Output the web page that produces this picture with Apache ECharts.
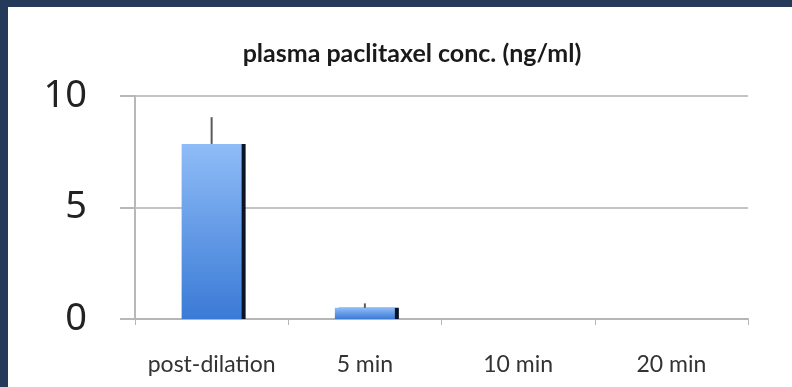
<!DOCTYPE html>
<html>
<head>
<meta charset="utf-8">
<script src="https://cdn.jsdelivr.net/npm/echarts@6/dist/echarts.min.js"></script>
<style>
html,body{margin:0;padding:0;background:#ffffff;}
#chart{width:792px;height:387px;}
</style>
</head>
<body>
<div id="chart"></div>
<script>
const titleText = 'plasma paclitaxel conc. (ng/ml)';
const categories = ['post-dilation', '5 min', '10 min', '20 min'];
const meanValues = [7.85, 0.5, 0, 0];
const errorUpper = [9.05, 0.7, 0, 0];
const yTicks = [0, 5, 10];

const chart = echarts.init(document.getElementById('chart'), null, {renderer: 'canvas'});

const option = {
  backgroundColor: '#ffffff',
  animation: false,
  title: {
    text: titleText,
    left: 407,
    textAlign: 'center',
    top: 36,
    textStyle: {fontFamily: 'Lato', fontWeight: 'bold', fontSize: 25, color: '#1a1a1a'}
  },
  graphic: [
    {type: 'rect', left: 0, top: 0, shape: {width: 792, height: 7}, style: {fill: '#253a5b'}, z: 100},
    {type: 'rect', left: 0, top: 0, shape: {width: 8, height: 387}, style: {fill: '#253a5b'}, z: 100}
  ],
  grid: {left: 135, right: 44, top: 96, bottom: 68},
  xAxis: {
    type: 'category',
    data: categories,
    axisLine: {show: true, lineStyle: {color: '#b5b5b5', width: 2}},
    axisTick: {show: true, interval: 0, length: 6, alignWithLabel: false, lineStyle: {color: '#b5b5b5'}},
    axisLabel: {interval: 0, hideOverlap: false, fontFamily: 'Lato', fontSize: 23, color: '#333333', margin: 34}
  },
  yAxis: {
    type: 'value',
    min: 0,
    max: 10,
    interval: 5,
    axisLine: {show: true, lineStyle: {color: '#b8b8b8', width: 2}},
    axisTick: {show: true, inside: false, length: 15, lineStyle: {color: '#b8b8b8', width: 2}},
    splitLine: {show: true, lineStyle: {color: '#c4c4c4', width: 2}},
    axisLabel: {
      fontFamily: 'Noto Sans', fontSize: 38, color: '#222222', margin: 48,
      formatter: function (v) { return yTicks.indexOf(v) >= 0 ? String(v) : ''; }
    }
  },
  series: [
    {
      type: 'bar',
      data: meanValues,
      barWidth: 60,
      itemStyle: {
        color: new echarts.graphic.LinearGradient(0, 0, 0, 1, [
          {offset: 0, color: '#8fbcf7'},
          {offset: 1, color: '#3a7ad6'}
        ]),
        shadowColor: '#0b1426',
        shadowBlur: 0,
        shadowOffsetX: 4,
        shadowOffsetY: 0
      },
      z: 3
    },
    {
      type: 'custom',
      data: categories.map((c, i) => [i, meanValues[i], errorUpper[i]]),
      renderItem: function (params, api) {
        const x = api.coord([api.value(0), 0])[0];
        const y0 = api.coord([api.value(0), api.value(1)])[1];
        const y1 = api.coord([api.value(0), api.value(2)])[1];
        if (Math.abs(y1 - y0) < 0.5) return null;
        return {
          type: 'line',
          shape: {x1: x, y1: y0, x2: x, y2: y1},
          style: {stroke: '#5a5a5a', lineWidth: 2}
        };
      },
      z: 4
    }
  ]
};
chart.setOption(option);
</script>
</body>
</html>
